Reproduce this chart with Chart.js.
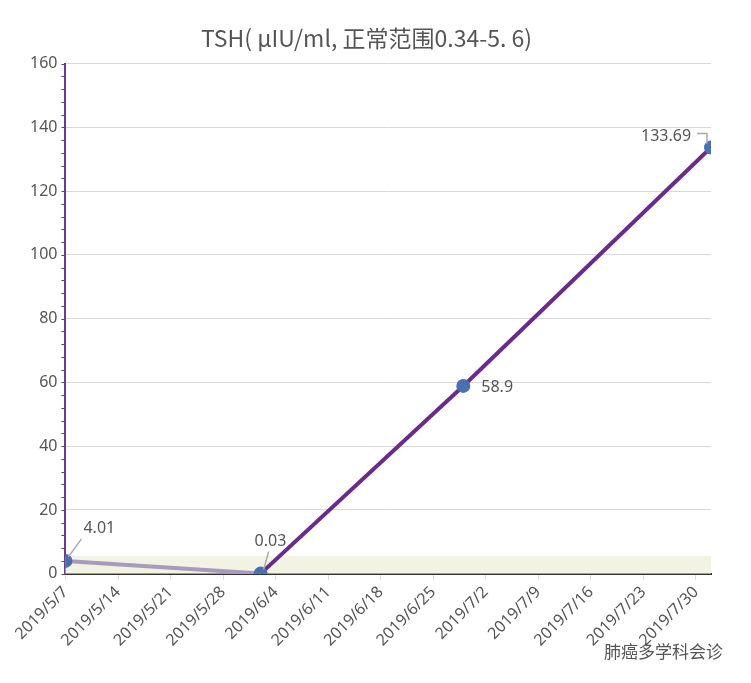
<!DOCTYPE html>
<html><head><meta charset="utf-8">
<script src="https://cdn.jsdelivr.net/npm/chart.js@4"></script>
<style>body{margin:0;background:#fff}#w{width:751px;height:683px;position:relative}</style>
</head><body><div id="w"><canvas id="c"></canvas></div>
<script>
const dates = ['2019/5/7','2019/6/2','2019/6/29','2019/8/1'];
const values = [4.01, 0.03, 58.9, 133.69];
const tickLabels = ['2019/5/7','2019/5/14','2019/5/21','2019/5/28','2019/6/4','2019/6/11','2019/6/18','2019/6/25','2019/7/2','2019/7/9','2019/7/16','2019/7/23','2019/7/30'];
const normalRange = [0.34, 5.6];
const base = new Date(2019,4,7);
const dayOf = s => { const [y,m,d]=s.split('/').map(Number); return Math.round((new Date(y,m-1,d)-base)/864e5); };
const pts = dates.map((d,i)=>({x:dayOf(d), y:values[i]}));
const labelOff = [[18,-28],[-6,-28],[18,6],[-70,-6]];
const plug = {
  id:'extra',
  beforeDatasetsDraw(ch){
    const {ctx,scales:{x,y}}=ch;
    ctx.save();ctx.fillStyle='rgba(240,240,220,0.8)';
    ctx.fillRect(x.left, y.getPixelForValue(normalRange[1]), x.right-x.left, y.getPixelForValue(0)-y.getPixelForValue(normalRange[1]));
    ctx.strokeStyle='#6a3d8a';ctx.lineWidth=1;
    for(let v=0;v<=160;v+=4){const py=Math.round(y.getPixelForValue(v))+0.5;ctx.beginPath();ctx.moveTo(x.left-4,py);ctx.lineTo(x.left,py);ctx.stroke();}
    ctx.restore();
  },
  afterDatasetsDraw(ch){
    const {ctx}=ch;const meta=ch.getDatasetMeta(0);
    ctx.save();ctx.font='16px "Noto Sans", sans-serif';ctx.fillStyle='#555';ctx.strokeStyle='#aaa';ctx.lineWidth=1.5;
    meta.data.forEach((p,i)=>{
      const [dx,dy]=labelOff[i];
      ctx.fillText(String(values[i]),p.x+dx,p.y+dy);
      if(i!==2){ctx.beginPath();ctx.moveTo(p.x+ (i==3?-4:3),p.y-4);ctx.lineTo(p.x+(i==3?-4:(i==0?16:8)),p.y+dy+(i==3?-8:6));if(i==3)ctx.lineTo(p.x-14,p.y+dy-8);ctx.stroke();}
    });
    ctx.font='17px "Noto Sans CJK SC"';ctx.fillStyle='#555';ctx.fillText('肺癌多学科会诊',604,658);
    ctx.restore();
  }
};
new Chart(document.getElementById('c'),{
  type:'line',
  data:{datasets:[{data:pts,borderWidth:4,
    segment:{borderColor:c=>c.p0DataIndex===0?'#a99bbf':'#6a2c8a'},
    pointBackgroundColor:'#4a70b0',pointBorderColor:'#4a70b0',pointRadius:5}]},
  options:{responsive:true,maintainAspectRatio:false,animation:false,
    layout:{padding:{left:22,right:40,top:24,bottom:30}},
    plugins:{legend:{display:false},tooltip:{enabled:false},
      title:{display:true,text:'TSH( μIU/ml, 正常范围0.34-5. 6)',color:'#555',font:{size:23,family:'"Noto Sans CJK SC"',weight:'normal'},padding:{bottom:12}}},
    scales:{
      x:{type:'linear',min:0,max:86,afterBuildTicks:a=>{a.ticks=tickLabels.map((_,i)=>({value:i*7}));},
        ticks:{callback:(v)=>tickLabels[v/7],maxRotation:45,minRotation:45,color:'#555',font:{size:16,family:'"Noto Sans"'}},
        grid:{color:'#ddd',drawOnChartArea:false,tickLength:6},border:{color:'#333',width:2}},
      y:{min:0,max:160,ticks:{stepSize:20,color:'#555',font:{size:16,family:'"Noto Sans"'},padding:8},
        grid:{color:'#d8d8d8',tickLength:0},border:{color:'#6a3d8a',width:2}}
    }},
  plugins:[plug]
});
</script></body></html>
